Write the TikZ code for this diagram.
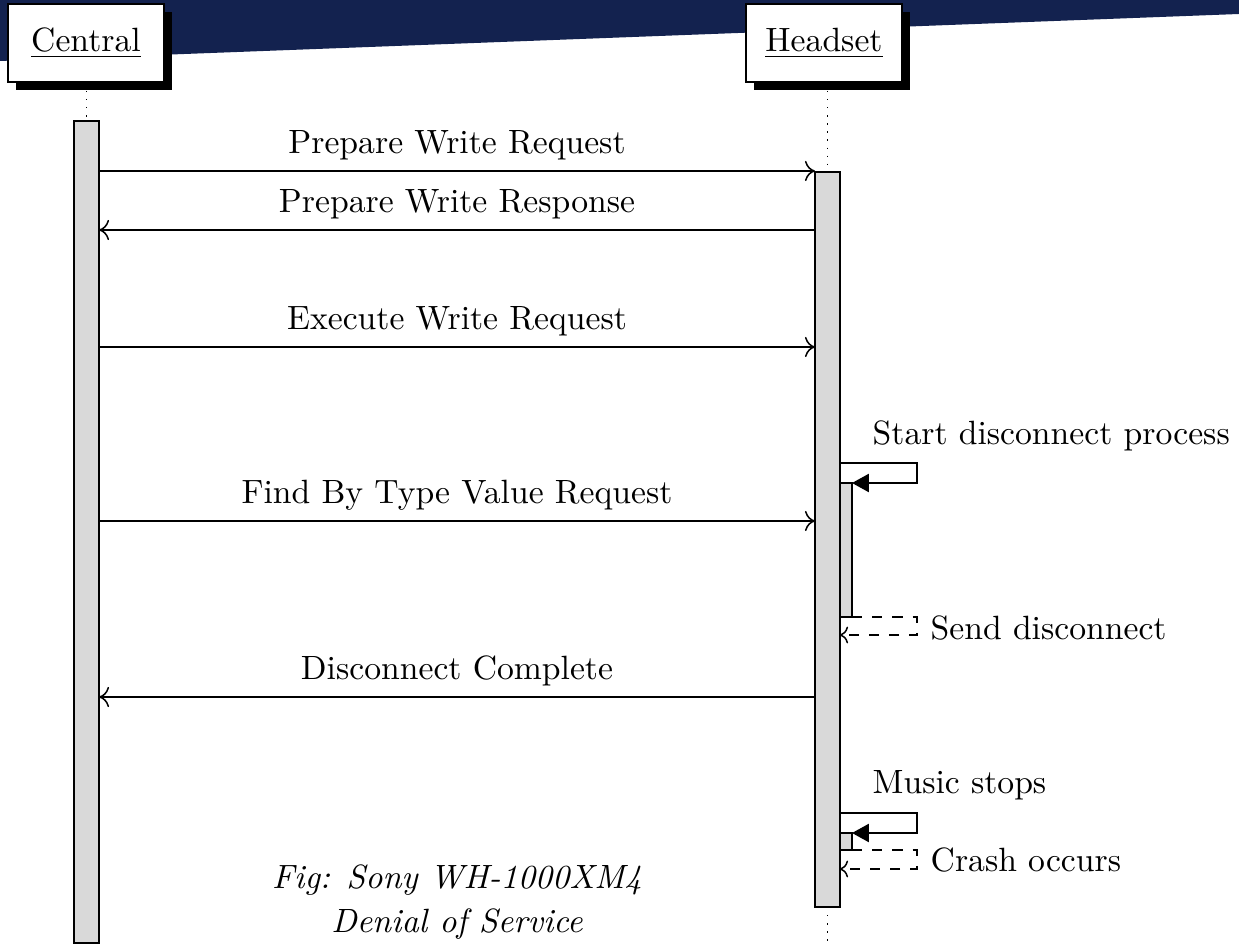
\documentclass[tikz,border=0pt]{standalone}
\usetikzlibrary{shadows,arrows.meta,fit}
\definecolor{navy}{RGB}{19,34,79}
\definecolor{barfill}{gray}{0.85}
\begin{document}
\begin{tikzpicture}[x=0.297pt,y=-0.297pt,
  actor/.style={draw, fill=white, line width=0.5pt, inner sep=0pt,
    minimum width=46.3pt, minimum height=23.2pt,
    drop shadow={shadow xshift=2.4pt, shadow yshift=-2.4pt, fill=black, opacity=1}},
  bar/.style={draw, fill=barfill, line width=0.5pt, inner sep=0pt, outer sep=0pt},
  life/.style={dotted, line width=0.4pt},
  msg/.style={-{To[length=3pt,width=6pt]}, line width=0.45pt},
  call/.style={-{Triangle[length=5pt,width=5.4pt]}, line width=0.45pt},
  ret/.style={dashed, -{To[length=2.4pt,width=5pt]}, line width=0.45pt},
  lbl/.style={midway, anchor=base, yshift=5.3pt},
  side/.style={anchor=west, inner sep=0pt}]

\useasboundingbox (0,0) rectangle (1239,945);

% header band
\fill[navy] (0,0) -- (1239,0) -- (1239,14) -- (0,61) -- cycle;

% participants
\node[actor] (central) at (86,43) {\underline{Central}};
\node[actor] (headset) at (824,43) {\underline{Headset}};

% activation bars
\node[bar, fit={(74,121)(99,943)}] (cbar) {};
\node[bar, fit={(815,172)(840,907)}] (hbar) {};
\node[bar, fit={(840,483)(852,617)}] (sub1) {};
\node[bar, fit={(840,833)(852,850)}] (sub2) {};

% lifelines
\coordinate (bottom) at (0,945);
\draw[life] (cbar.north |- central.south) -- (cbar.north);
\draw[life] (hbar.north |- headset.south) -- (hbar.north);
\draw[life] (hbar.south) -- (hbar.south |- bottom);

% message rows
\coordinate (m1) at (0,171);
\coordinate (m2) at (0,230);
\coordinate (m3) at (0,347);
\coordinate (m4) at (0,521);
\coordinate (m5) at (0,697);

\draw[msg] (cbar.east |- m1) -- (hbar.west |- m1) node[lbl] (l1) {Prepare Write Request};
\draw[msg] (hbar.west |- m2) -- (cbar.east |- m2) node[lbl] (l2) {Prepare Write Response};
\draw[msg] (cbar.east |- m3) -- (hbar.west |- m3) node[lbl] (l3) {Execute Write Request};
\draw[msg] (cbar.east |- m4) -- (hbar.west |- m4) node[lbl] (l4) {Find By Type Value Request};
\draw[msg] (hbar.west |- m5) -- (cbar.east |- m5) node[lbl] (l5) {Disconnect Complete};

% self calls on the headset
\coordinate (loopx) at (917,0);
\coordinate (c1) at (0,463);
\coordinate (r1) at (0,635);
\coordinate (c2) at (0,813);
\coordinate (r2) at (0,869);

\draw[call] (hbar.east |- c1) -| (loopx |- sub1.north) -- (sub1.north east);
\draw[ret] (sub1.south east) -| (loopx |- r1) -- (hbar.east |- r1);
\node[side] (t1) at (872,436) {Start disconnect process};
\node[side] (t2) at (930,628) {Send disconnect};

\draw[call] (hbar.east |- c2) -| (loopx |- sub2.north) -- (sub2.north east);
\draw[ret] (sub2.south east) -| (loopx |- r2) -- (hbar.east |- r2);
\node[side] (t3) at (872,785) {Music stops};
\node[side] (t4) at (930,860) {Crash occurs};

% caption
\node[font=\itshape, align=center, inner sep=0pt] (cap) at (457,902)
  {Fig: Sony WH-1000XM4\\[1.2pt]Denial of Service};
\end{tikzpicture}
\end{document}
